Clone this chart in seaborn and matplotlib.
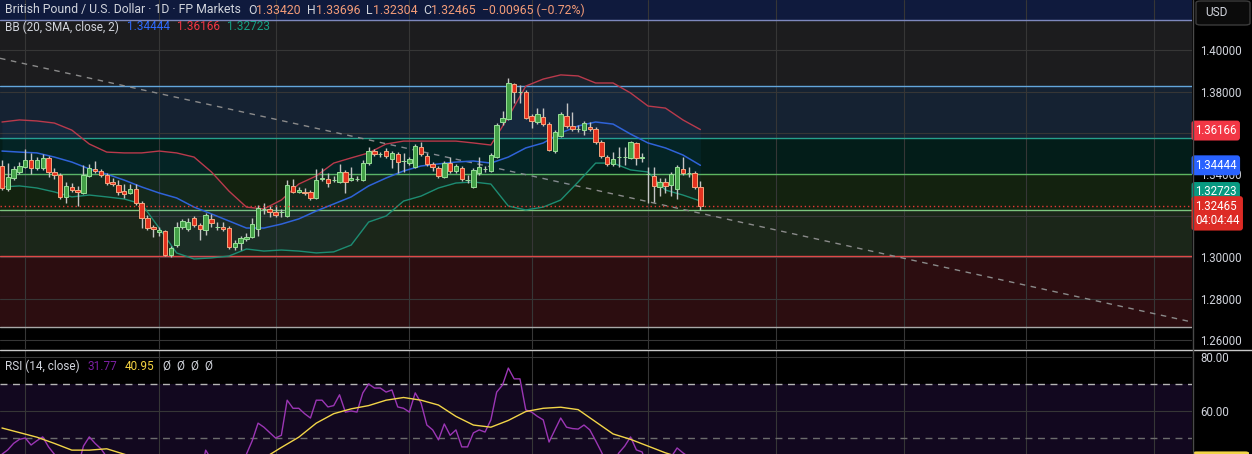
import numpy as np
import pandas as pd
import matplotlib.pyplot as plt
import seaborn as sns
from matplotlib.lines import Line2D
from matplotlib.patches import FancyBboxPatch

sns.set_theme(style="dark")
plt.rcParams["font.family"] = ["Roboto", "DejaVu Sans"]

# %% GBPUSD daily candles, oldest first
opens = [1.3441, 1.3330, 1.3383, 1.3412, 1.3436, 1.3470, 1.3431, 1.3431, 1.3480, 1.3412,
         1.3398, 1.3292, 1.3340, 1.3325, 1.3311, 1.3393, 1.3427, 1.3417, 1.3398, 1.3364,
         1.3349, 1.3320, 1.3311, 1.3330, 1.3263, 1.3190, 1.3147, 1.3123, 1.3128, 1.3012,
         1.3060, 1.3147, 1.3137, 1.3190, 1.3157, 1.3133, 1.3186, 1.3147, 1.3147, 1.3142,
         1.3051, 1.3070, 1.3089, 1.3099, 1.3137, 1.3234, 1.3234, 1.3219, 1.3219, 1.3200,
         1.3345, 1.3316, 1.3316, 1.3316, 1.3287, 1.3378, 1.3378, 1.3373, 1.3364, 1.3412,
         1.3373, 1.3378, 1.3373, 1.3455, 1.3513, 1.3499, 1.3513, 1.3475, 1.3499, 1.3465,
         1.3455, 1.3436, 1.3533, 1.3489, 1.3451, 1.3431, 1.3388, 1.3455, 1.3417, 1.3431,
         1.3373, 1.3340, 1.3407, 1.3427, 1.3417, 1.3484, 1.3653, 1.3667, 1.3836, 1.3798,
         1.3798, 1.3682, 1.3653, 1.3677, 1.3643, 1.3513, 1.3586, 1.3682, 1.3634, 1.3619,
         1.3614, 1.3629, 1.3619, 1.3557, 1.3484, 1.3451, 1.3484, 1.3484, 1.3480, 1.3552,
         1.3480, 1.3402, 1.3393, 1.3340, 1.3364, 1.3349, 1.3330, 1.3427, 1.3407, 1.3407,
         1.33420]
highs = [1.3470, 1.3455, 1.3441, 1.3460, 1.3523, 1.3504, 1.3484, 1.3499, 1.3489, 1.3431,
         1.3407, 1.3364, 1.3359, 1.3345, 1.3446, 1.3451, 1.3465, 1.3427, 1.3407, 1.3383,
         1.3373, 1.3354, 1.3354, 1.3354, 1.3272, 1.3205, 1.3157, 1.3147, 1.3133, 1.3055,
         1.3171, 1.3186, 1.3190, 1.3200, 1.3166, 1.3214, 1.3210, 1.3171, 1.3171, 1.3152,
         1.3084, 1.3104, 1.3118, 1.3190, 1.3253, 1.3263, 1.3248, 1.3253, 1.3234, 1.3373,
         1.3378, 1.3340, 1.3335, 1.3325, 1.3427, 1.3431, 1.3407, 1.3393, 1.3451, 1.3422,
         1.3436, 1.3393, 1.3470, 1.3533, 1.3523, 1.3508, 1.3528, 1.3513, 1.3508, 1.3504,
         1.3484, 1.3547, 1.3557, 1.3504, 1.3460, 1.3441, 1.3465, 1.3484, 1.3451, 1.3441,
         1.3398, 1.3431, 1.3484, 1.3441, 1.3504, 1.3648, 1.3706, 1.3865, 1.3841, 1.3831,
         1.3807, 1.3692, 1.3720, 1.3720, 1.3653, 1.3614, 1.3701, 1.3745, 1.3701, 1.3639,
         1.3658, 1.3653, 1.3629, 1.3566, 1.3494, 1.3508, 1.3533, 1.3533, 1.3561, 1.3557,
         1.3504, 1.3436, 1.3436, 1.3383, 1.3383, 1.3412, 1.3446, 1.3484, 1.3436, 1.3417,
         1.33696]
lows = [1.3325, 1.3320, 1.3373, 1.3402, 1.3431, 1.3402, 1.3422, 1.3422, 1.3388, 1.3378,
        1.3282, 1.3263, 1.3316, 1.3248, 1.3306, 1.3388, 1.3407, 1.3388, 1.3349, 1.3345,
        1.3301, 1.3287, 1.3306, 1.3253, 1.3142, 1.3133, 1.3099, 1.3104, 1.3007, 1.3002,
        1.3051, 1.3137, 1.3128, 1.3147, 1.3084, 1.3108, 1.3147, 1.3133, 1.3128, 1.3041,
        1.3036, 1.3036, 1.3080, 1.3094, 1.3104, 1.3210, 1.3195, 1.3195, 1.3195, 1.3195,
        1.3311, 1.3311, 1.3301, 1.3277, 1.3282, 1.3369, 1.3340, 1.3364, 1.3359, 1.3311,
        1.3369, 1.3369, 1.3369, 1.3446, 1.3489, 1.3484, 1.3480, 1.3431, 1.3407, 1.3412,
        1.3446, 1.3431, 1.3489, 1.3441, 1.3417, 1.3383, 1.3383, 1.3407, 1.3407, 1.3369,
        1.3359, 1.3335, 1.3398, 1.3412, 1.3412, 1.3480, 1.3639, 1.3663, 1.3745, 1.3745,
        1.3667, 1.3624, 1.3643, 1.3634, 1.3513, 1.3504, 1.3581, 1.3624, 1.3610, 1.3605,
        1.3590, 1.3610, 1.3547, 1.3480, 1.3441, 1.3441, 1.3436, 1.3446, 1.3475, 1.3446,
        1.3460, 1.3263, 1.3267, 1.3296, 1.3311, 1.3296, 1.3282, 1.3398, 1.3388, 1.3330,
        1.32304]
closes = [1.3335, 1.3388, 1.3427, 1.3441, 1.3470, 1.3431, 1.3470, 1.3480, 1.3412, 1.3398,
          1.3292, 1.3345, 1.3325, 1.3316, 1.3398, 1.3431, 1.3417, 1.3398, 1.3359, 1.3354,
          1.3316, 1.3306, 1.3330, 1.3263, 1.3190, 1.3142, 1.3137, 1.3133, 1.3012, 1.3046,
          1.3147, 1.3176, 1.3171, 1.3157, 1.3137, 1.3205, 1.3166, 1.3147, 1.3137, 1.3051,
          1.3070, 1.3094, 1.3099, 1.3161, 1.3239, 1.3234, 1.3219, 1.3205, 1.3219, 1.3349,
          1.3316, 1.3325, 1.3311, 1.3287, 1.3373, 1.3383, 1.3359, 1.3373, 1.3412, 1.3364,
          1.3383, 1.3378, 1.3455, 1.3513, 1.3499, 1.3499, 1.3489, 1.3504, 1.3460, 1.3465,
          1.3475, 1.3537, 1.3499, 1.3451, 1.3436, 1.3393, 1.3455, 1.3417, 1.3441, 1.3378,
          1.3373, 1.3422, 1.3436, 1.3427, 1.3494, 1.3639, 1.3672, 1.3841, 1.3798, 1.3798,
          1.3672, 1.3658, 1.3692, 1.3643, 1.3518, 1.3605, 1.3692, 1.3634, 1.3619, 1.3619,
          1.3648, 1.3619, 1.3557, 1.3489, 1.3451, 1.3475, 1.3484, 1.3484, 1.3557, 1.3480,
          1.3484, 1.3402, 1.3345, 1.3364, 1.3345, 1.3402, 1.3436, 1.3407, 1.3407, 1.3340,
          1.32465]

# Bollinger Bands (20, 2), read every 3rd candle
bb_idx = list(range(0, 121, 3))
bb_upper = [1.3653, 1.3663, 1.3658, 1.3648, 1.3614, 1.3547, 1.3508, 1.3504, 1.3504, 1.3513,
            1.3504, 1.3484, 1.3412, 1.3320, 1.3243, 1.3234, 1.3277, 1.3354, 1.3393, 1.3455,
            1.3480, 1.3504, 1.3547, 1.3561, 1.3561, 1.3561, 1.3561, 1.3552, 1.3542, 1.3677,
            1.3826, 1.3860, 1.3880, 1.3875, 1.3841, 1.3841, 1.3793, 1.3730, 1.3720, 1.3663,
            1.36166]
bb_basis = [1.3513, 1.3508, 1.3504, 1.3484, 1.3460, 1.3427, 1.3402, 1.3373, 1.3340, 1.3311,
            1.3287, 1.3243, 1.3210, 1.3176, 1.3142, 1.3142, 1.3161, 1.3186, 1.3224, 1.3258,
            1.3292, 1.3345, 1.3383, 1.3417, 1.3441, 1.3451, 1.3460, 1.3465, 1.3455, 1.3484,
            1.3528, 1.3552, 1.3600, 1.3634, 1.3653, 1.3643, 1.3595, 1.3552, 1.3528, 1.3494,
            1.34444]
bb_lower = [1.3340, 1.3345, 1.3335, 1.3316, 1.3292, 1.3301, 1.3292, 1.3282, 1.3258, 1.3142,
            1.3022, 1.2993, 1.2998, 1.3007, 1.3041, 1.3031, 1.3036, 1.3031, 1.3022, 1.3027,
            1.3060, 1.3171, 1.3200, 1.3272, 1.3296, 1.3335, 1.3359, 1.3364, 1.3354, 1.3248,
            1.3229, 1.3243, 1.3277, 1.3364, 1.3455, 1.3455, 1.3422, 1.3412, 1.3325, 1.3301,
            1.32723]

# RSI(14) per candle and its moving average (every 3rd candle)
rsi = [44, 45.6, 48, 49.5, 50, 47.4, 49, 50.4, 46.7, 44,
       42, 36, 40, 39, 47, 50.4, 48, 46, 43, 41,
       40, 37, 36, 38, 33, 28, 26, 26, 27, 21,
       25, 33, 36, 37, 35, 45.5, 42, 40, 40, 33,
       36, 39, 44, 49, 55.5, 54, 52, 50, 51, 64,
       61, 61, 59, 57.4, 64, 64, 61.5, 62, 66, 59.6,
       60, 59.6, 66.7, 70, 68.5, 68.5, 67, 67.8, 61.5, 61,
       59.6, 66.7, 63, 54.8, 53, 49.3, 55.2, 51, 53, 46.7,
       46.7, 51.9, 53, 52.2, 56.7, 67, 69.6, 75.9, 71.9, 71.9,
       60.4, 59.6, 58, 56.7, 48.5, 53, 57.4, 54, 53.5, 53.3,
       54.8, 53, 49, 44.8, 40, 41, 44.5, 47, 50.4, 45.6,
       44.8, 38, 37, 40, 39, 43, 46.3, 44.5, 43, 38,
       31.77]
rsi_ma = [53.7, 52, 50.3, 48, 45.5, 45.5, 46, 44, 42, 39,
          36.5, 35.5, 35.5, 36, 38, 42.5, 46.5, 50.3, 55.5, 59,
          60.8, 62, 64, 65, 64, 62.2, 58, 54.8, 54, 56.5,
          59.8, 61, 61.4, 60.5, 56, 51.5, 49.5, 47, 44.5, 42.5,
          40.95]

# drawn zones: edge prices (top to bottom)
zone_edges = [1.41446, 1.38265, 1.35759, 1.34024, 1.32289, 1.30096, 1.26651]
# dashed trendline anchors (candle index, price)
trend_x = [-0.34, 204.47]
trend_y = [1.3960, 1.2689]
# first trading day of each month (candle index) -> vertical grid
month_starts = [4, 27, 47, 70, 91, 111, 133, 155, 176, 198]

zone_fill = ["#1c1c1e", "#152232", "#031d19", "#13220f", "#1b2619", "#2c0d10"]
zone_line = ["#7d88bd", "#63a6dc", "#26a08c", "#5db660", "#7cc47e", "#e04848", "#a8a8a8"]
GRID = "#363636"
TXT = "#d1d4dc"

# %% figure layout (pixel boxes)
W, H = 1252, 454
fig = plt.figure(figsize=(W / 100, H / 100), dpi=100, facecolor="black")


def px_box(x0, y0, x1, y1):
    return [x0 / W, 1 - y1 / H, (x1 - x0) / W, (y1 - y0) / H]


ax = fig.add_axes(px_box(0, 0, 1192, 349))
rax = fig.add_axes(px_box(0, 350, 1192, 454))
for a in (ax, rax):
    a.set_facecolor("black")
    for s in a.spines.values():
        s.set_visible(False)
    a.set_xlim(-0.34, 204.47)
    a.set_xticks(month_starts, labels=[])
    a.yaxis.tick_right()
    a.tick_params(axis="both", length=0, pad=5.8, labelsize=8.3, labelcolor=TXT)
    a.grid(True, color=GRID, lw=0.8)
    a.set_axisbelow(True)

# %% price pane
ax.set_ylim(1.25590, 1.42410)
ticks = np.round(np.arange(1.26, 1.4001, 0.02), 2)
# 1.36 and 1.32 sit under the price tags, so they carry no label
ax.set_yticks(ticks, labels=["" if t in (1.36, 1.32) else f"{t:.5f}" for t in ticks])

ax.axhspan(zone_edges[0], 1.43, color="#0f1a3d", zorder=0)
for (hi, lo), fc in zip(zip(zone_edges[:-1], zone_edges[1:]), zone_fill):
    ax.axhspan(lo, hi, color=fc, zorder=0, lw=0)
for y, lc in zip(zone_edges, zone_line):
    ax.axhline(y, color=lc, lw=1, zorder=1)

ax.plot(trend_x, trend_y, color="#8a8a8a", lw=1, ls=(0, (4, 4)), zorder=2)

bb = pd.DataFrame({"i": bb_idx, "upper": bb_upper, "basis": bb_basis, "lower": bb_lower})
ax.fill_between(bb["i"], bb["lower"], bb["upper"], color="#2196f3", alpha=0.06, lw=0, zorder=2)
sns.lineplot(data=bb, x="i", y="upper", ax=ax, color="#b93a4c", lw=1, zorder=3)
sns.lineplot(data=bb, x="i", y="basis", ax=ax, color="#2f63d8", lw=1.1, zorder=3)
sns.lineplot(data=bb, x="i", y="lower", ax=ax, color="#1d8c72", lw=1, zorder=3)
ax.set(xlabel="", ylabel="")

idx = np.arange(len(closes))
o, h, l, c = (np.array(v) for v in (opens, highs, lows, closes))
up = c >= o
body = np.maximum(np.abs(c - o), 0.00012)
bottom = np.minimum(o, c)
ax.vlines(idx, l, h, color="#c4c4c4", lw=1, zorder=4)
ax.bar(idx[up], body[up], bottom=bottom[up], width=0.76, color="#43a047",
       edgecolor="#98df98", lw=0.7, zorder=5)
ax.bar(idx[~up], body[~up], bottom=bottom[~up], width=0.76, color="#e3321f",
       edgecolor="#f4a57e", lw=0.7, zorder=5)
ax.axhline(closes[-1], color="#e53935", lw=1, ls=(0, (1, 2)), zorder=6)


def price_tag(a, val, text, fc, dy=0, fg="white"):
    a.annotate(text, xy=(1, val), xycoords=("axes fraction", "data"),
               xytext=(3, dy), textcoords="offset pixels", ha="left", va="center",
               color=fg, fontsize=8.3, linespacing=1.15, annotation_clip=False, zorder=10,
               bbox=dict(boxstyle="round,pad=0.3,rounding_size=0.25", fc=fc, ec="none"))


price_tag(ax, bb_upper[-1], f"{bb_upper[-1]:.5f}", "#f23645", dy=-1)
price_tag(ax, bb_basis[-1], f"{bb_basis[-1]:.5f}", "#2962ff")
price_tag(ax, bb_lower[-1], f"{bb_lower[-1]:.5f}", "#089981", dy=9)
price_tag(ax, closes[-1], f"{closes[-1]:.5f}\n04:04:44", "#dd2b25", dy=-7)

# %% RSI pane
rax.set_ylim(44.07, 82.59)
rax.set_yticks([60, 80])
rax.yaxis.set_major_formatter(plt.FuncFormatter(lambda v, _: f"{v:.2f}"))
rax.axhspan(30, 70, color="#12081f", zorder=0, lw=0)
rax.axhline(70, color="#b5b5b5", lw=1, ls=(0, (5, 4)), zorder=1)
rax.axhline(50, color="#6c6c6c", lw=1, ls=(0, (5, 4)), zorder=1)
sns.lineplot(x=idx, y=rsi, ax=rax, color="#9b36b4", lw=1, zorder=3)
sns.lineplot(x=bb_idx, y=rsi_ma, ax=rax, color="#f2d548", lw=1, zorder=4)
rax.set(xlabel="", ylabel="")

# the 40.95 tag of the MA sits just below the pane: only its top edge shows
fig.canvas.draw()
ma_y = rax.transData.transform((0, rsi_ma[-1]))[1]
fig.add_artist(FancyBboxPatch((1193 / W, (ma_y - 11) / H), 56 / W, 22 / H,
                              boxstyle="round,pad=0,rounding_size=0.003",
                              fc="#f2d548", ec="none", transform=fig.transFigure))

# %% separators, currency box, legends
fig.add_artist(Line2D([0, 1], [1 - 349.5 / H] * 2, color="#c8c8c8", lw=1))
fig.add_artist(Line2D([1192.5 / W] * 2, [0, 1], color="#4a4a4a", lw=1))
fig.add_artist(FancyBboxPatch((1196 / W, 1 - 25 / H), 54 / W, 24 / H,
                              boxstyle="round,pad=0,rounding_size=0.004",
                              fc="#0b0b0b", ec="#3b3b3b", lw=1, transform=fig.transFigure))
fig.text(1205 / W, 1 - 13 / H, "USD", color=TXT, fontsize=8.6, va="center", ha="left")

renderer = fig.canvas.get_renderer()


def text_run(x, y, pieces, size=8.8):
    for s, col, gap in pieces:
        t = fig.text(x / W, 1 - y / H, s, color=col, fontsize=size, va="center", ha="left")
        x += t.get_window_extent(renderer).width + gap


SAL = "#f39c78"
text_run(5, 10, [("British Pound / U.S. Dollar · 1D · FP Markets", TXT, 7),
                 ("O", TXT, 0), ("1.33420", SAL, 6), ("H", TXT, 0), ("1.33696", SAL, 6),
                 ("L", TXT, 0), ("1.32304", SAL, 6), ("C", TXT, 0), ("1.32465", SAL, 6),
                 ("−0.00965 (−0.72%)", SAL, 0)])
text_run(5, 27, [("BB (20, SMA, close, 2)", TXT, 8), ("1.34444", "#2f6bff", 7),
                 ("1.36166", "#f23645", 7), ("1.32723", "#15a085", 0)], size=8.5)
text_run(5, 366, [("RSI (14, close)", TXT, 8), ("31.77", "#7b1fa2", 7), ("40.95", "#f5d341", 8),
                  ("Ø", TXT, 6), ("Ø", TXT, 6), ("Ø", TXT, 6), ("Ø", TXT, 0)], size=8.5)

fig.savefig("out.png", dpi=100, facecolor="black")
